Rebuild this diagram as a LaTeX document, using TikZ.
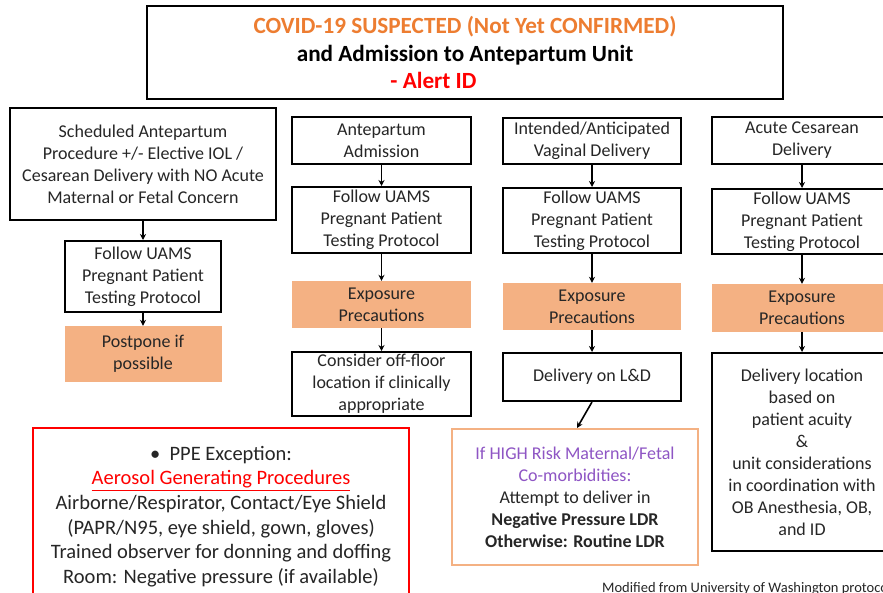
\documentclass[tikz,border=0pt]{standalone}
\usepackage{fontspec}
\setmainfont{Carlito}
\usetikzlibrary{arrows.meta}
\definecolor{boxorange}{HTML}{F4B183}
\definecolor{titleorange}{HTML}{ED7D31}
\definecolor{alertred}{HTML}{FF0000}
\definecolor{purp}{HTML}{8E55C4}
\definecolor{bodytext}{HTML}{262626}
\begin{document}
\begin{tikzpicture}[x=1pt,y=-1pt,
  bodyfont/.style={font=\fontsize{18}{22}\selectfont},
  box/.style={draw=black, line width=2pt, inner sep=0pt, align=center, bodyfont, text=bodytext},
  obox/.style={fill=boxorange, inner sep=0pt, align=center, bodyfont, text=bodytext},
  arr/.style={-{Stealth[length=6pt,width=6pt]}, line width=1.6pt},
]
\clip (0,0) rectangle (883,593);
\fill[white] (0,0) rectangle (883,593);

% title
\node[box, minimum width=636pt, minimum height=93pt, font=\fontsize{23.2}{27.5}\selectfont\bfseries] (top) at (465,52.5)
  {\textcolor{titleorange}{COVID-19 SUSPECTED (Not Yet CONFIRMED)}\\
   \textcolor{black}{and Admission to Antepartum Unit}\\
   \textcolor{alertred}{- Alert ID}\hspace*{63pt}};

% column 1
\node[box, minimum width=266pt, minimum height=112pt] (c1a) at (143,164)
  {Scheduled Antepartum\\Procedure +/- Elective IOL /\\Cesarean Delivery with NO Acute\\Maternal or Fetal Concern};
\node[box, minimum width=156pt, minimum height=71pt] (c1b) at (143,276.5)
  {Follow UAMS\\Pregnant Patient\\Testing Protocol};
\node[obox, minimum width=157pt, minimum height=56pt] (c1c) at (143,354)
  {Postpone if\\possible};

% column 2
\node[box, minimum width=179pt, minimum height=47pt] (c2a) at (381.5,140.5) {Antepartum\\Admission};
\node[box, minimum width=179pt, minimum height=66pt] (c2b) at (381.5,220) {Follow UAMS\\Pregnant Patient\\Testing Protocol};
\node[obox, minimum width=179pt, minimum height=47pt] (c2c) at (381.5,304.5) {Exposure\\Precautions};
\node[box, minimum width=179pt, minimum height=64pt] (c2d) at (381.5,384) {Consider off-floor\\location if clinically\\appropriate};

% column 3
\node[box, minimum width=178pt, minimum height=46pt] (c3a) at (592,141) {Intended/Anticipated\\Vaginal Delivery};
\node[box, minimum width=178pt, minimum height=65pt] (c3b) at (592,220.5) {Follow UAMS\\Pregnant Patient\\Testing Protocol};
\node[obox, minimum width=178pt, minimum height=47pt] (c3c) at (592,306.5) {Exposure\\Precautions};
\node[box, minimum width=178pt, minimum height=48pt] (c3d) at (592,377) {Delivery on L\&D};
\node[box, draw=boxorange, minimum width=246pt, minimum height=136pt, font=\fontsize{18}{22}\selectfont] (c3e) at (575,497)
  {\textcolor{purp}{If HIGH Risk Maternal/Fetal}\\
   \textcolor{purp}{Co-morbidities:}\\
   Attempt to deliver in\\
   \textbf{Negative Pressure LDR}\\
   \textbf{Otherwise: Routine LDR}};

% column 4
\node[box, minimum width=180pt, minimum height=47pt] (c4a) at (802,140.5) {Acute Cesarean\\Delivery};
\node[box, minimum width=180pt, minimum height=65pt] (c4b) at (802,221.5) {Follow UAMS\\Pregnant Patient\\Testing Protocol};
\node[obox, minimum width=180pt, minimum height=48pt] (c4c) at (802,308) {Exposure\\Precautions};
\node[box, minimum width=180pt, minimum height=198pt] (c4d) at (802,452)
  {Delivery location\\based on\\patient acuity\\\&\\unit considerations\\in coordination with\\OB Anesthesia, OB,\\and ID};

% PPE box
\node[box, draw=alertred, minimum width=376pt, minimum height=177pt, font=\fontsize{20.5}{24.6}\selectfont] (ppe) at (221,516.5)
  {\textbullet\ \ PPE Exception:\\
   \textcolor{alertred}{\underline{Aerosol Generating Procedures}}\\
   Airborne/Respirator, Contact/Eye Shield\\
   (PAPR/N95, eye shield, gown, gloves)\\
   Trained observer for donning and doffing\\
   Room: Negative pressure (if available)};

% footer
\node[anchor=base west, inner sep=0pt, font=\fontsize{14.5}{16}\selectfont, text=bodytext] (foot) at (602,592)
  {Modified from University of Washington protocol};

% arrows
\draw[arr] (c1a) -- (c1b);
\draw[arr] (c1b) -- (c1c);
\draw[arr] (c2a) -- (c2b);
\draw[arr] (c2b) -- (c2c);
\draw[arr] (c2c) -- (c2d);
\draw[arr] (c3a) -- (c3b);
\draw[arr] (c3b) -- (c3c);
\draw[arr] (c3c) -- (c3d);
\draw[arr] (c3d.south) -- ([xshift=2pt]c3e.north);
\draw[arr] (c4a) -- (c4b);
\draw[arr] (c4b) -- (c4c);
\draw[arr] (c4c) -- (c4d);
\end{tikzpicture}
\end{document}
